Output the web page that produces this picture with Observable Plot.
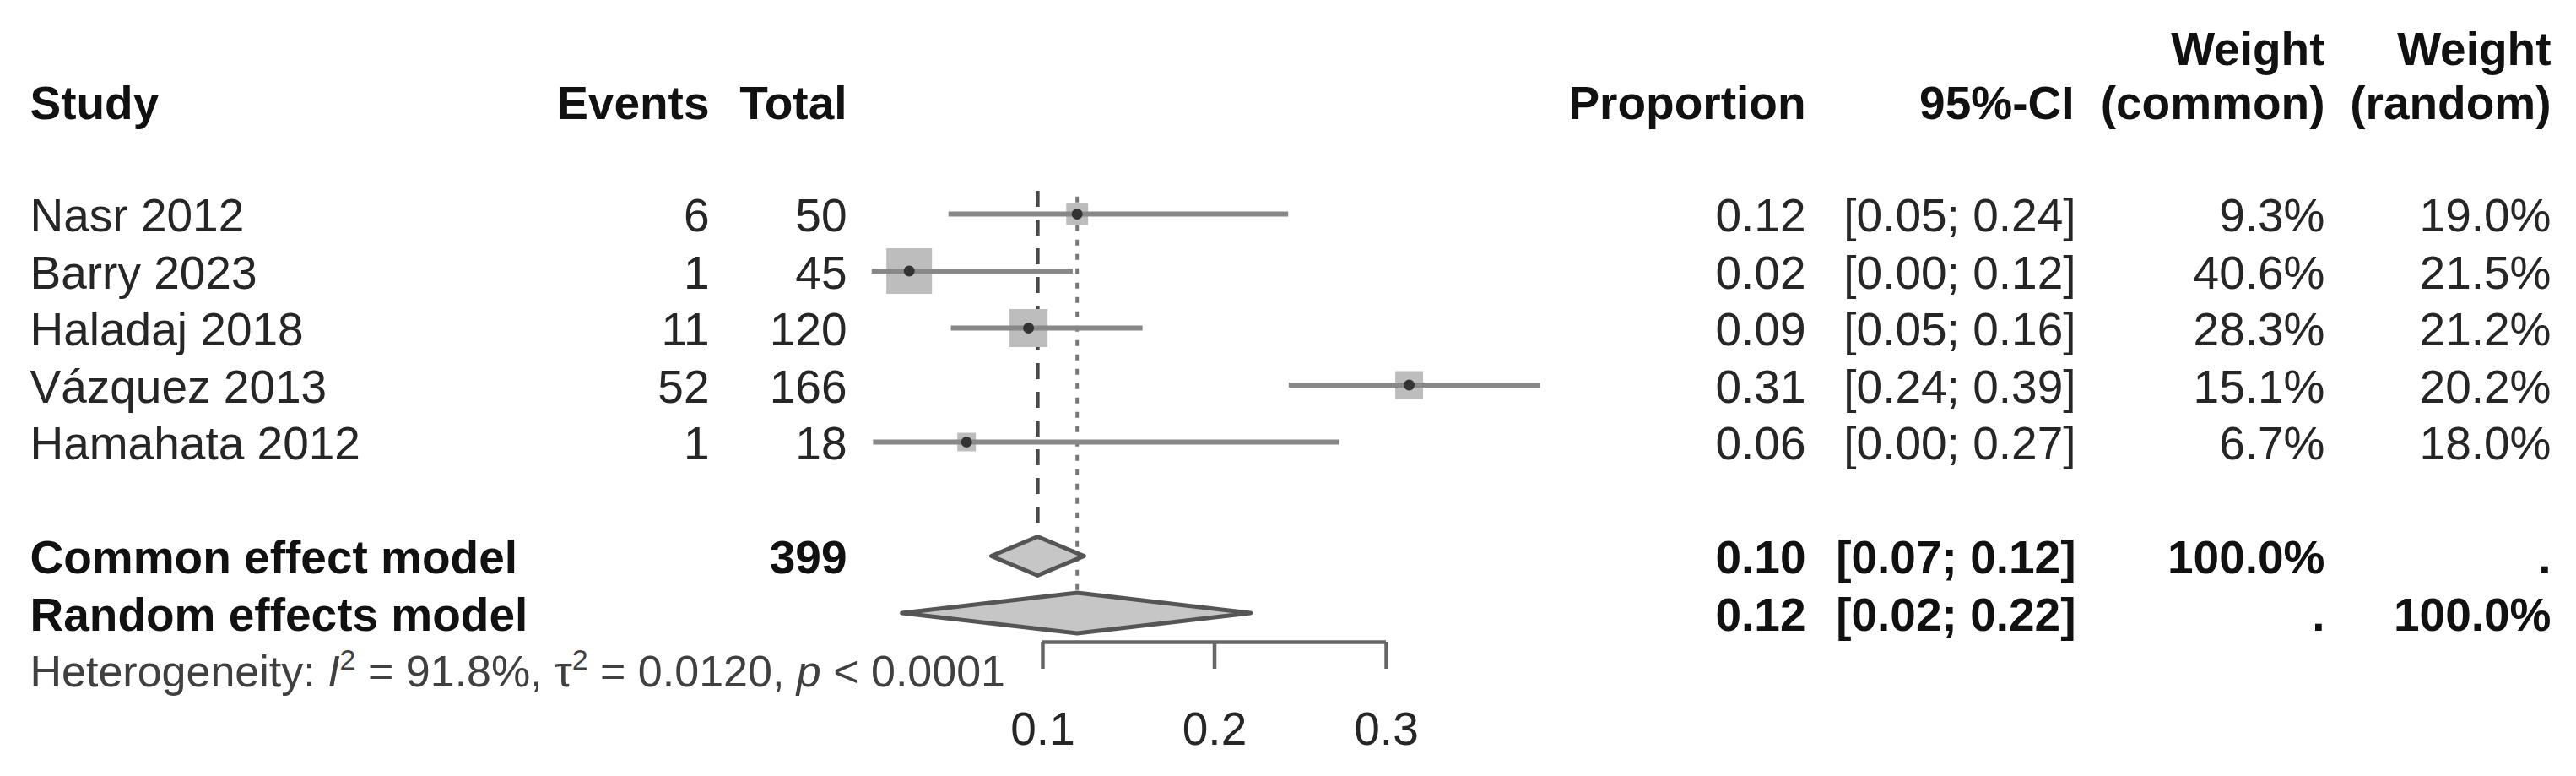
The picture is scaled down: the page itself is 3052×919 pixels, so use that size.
<!DOCTYPE html>
<html>
<head>
<meta charset="utf-8">
<script src="https://cdn.jsdelivr.net/npm/d3@7"></script>
<script src="https://cdn.jsdelivr.net/npm/@observablehq/plot@0.6"></script>
<style>
  html, body { margin: 0; padding: 0; background: #fff; }
  #chart svg { display: block; }
</style>
</head>
<body>
<div id="chart"></div>
<script>
// ---- data ----
const studies = ["Nasr 2012", "Barry 2023", "Haladaj 2018", "Vázquez 2013", "Hamahata 2012"];
const events = [6, 1, 11, 52, 1];
const totals = [50, 45, 120, 166, 18];
const proportion = [0.12, 0.0222, 0.0917, 0.3133, 0.0556];
const ciLower = [0.0453, 0.0006, 0.0467, 0.2434, 0.0014];
const ciUpper = [0.2431, 0.1177, 0.1583, 0.3897, 0.2729];
const propLabels = ["0.12", "0.02", "0.09", "0.31", "0.06"];
const ciLabels = ["[0.05; 0.24]", "[0.00; 0.12]", "[0.05; 0.16]", "[0.24; 0.39]", "[0.00; 0.27]"];
const weightCommon = [9.3, 40.6, 28.3, 15.1, 6.7];
const weightRandom = [19.0, 21.5, 21.2, 20.2, 18.0];

const models = ["Common effect model", "Random effects model"];
const modelTotals = ["399", ""];
const modelEst = [0.097, 0.120];
const modelLower = [0.070, 0.018];
const modelUpper = [0.124, 0.221];
const modelPropLabels = ["0.10", "0.12"];
const modelCiLabels = ["[0.07; 0.12]", "[0.02; 0.22]"];
const modelWeightCommon = ["100.0%", "."];
const modelWeightRandom = [".", "100.0%"];

const hetI2 = "91.8%";
const hetTau2 = "0.0120";
const hetP = "< 0.0001";

const axisTicks = [0.1, 0.2, 0.3];

// ---- tables built from the arrays ----
const fmtW = d => d3.format(".1f")(d) + "%";
const studyRows = studies.map((s, i) => ({
  row: i, study: s, events: String(events[i]), total: String(totals[i]),
  p: proportion[i], lo: ciLower[i], hi: ciUpper[i],
  pLab: propLabels[i], ciLab: ciLabels[i],
  wc: weightCommon[i], wr: weightRandom[i],
  wcLab: fmtW(weightCommon[i]), wrLab: fmtW(weightRandom[i])
}));
const modelRows = models.map((m, i) => ({
  row: studies.length + 1 + i, model: m, total: modelTotals[i],
  est: modelEst[i], lo: modelLower[i], hi: modelUpper[i],
  pLab: modelPropLabels[i], ciLab: modelCiLabels[i],
  wcLab: modelWeightCommon[i], wrLab: modelWeightRandom[i]
}));
const hetRow = studies.length + 1 + models.length;
const hetText = `Heterogeneity: I² = ${hetI2}, τ² = ${hetTau2}, p ${hetP}`;

// ---- layout / style ----
const W = 3052, H = 919;
const yDomain = [-3.748, 7.511];
const diamondHalf = [0.34, 0.355];
const diamonds = modelRows.flatMap((m, i) => [
  {model: m.model, x: m.lo, y: m.row},
  {model: m.model, x: m.est, y: m.row - diamondHalf[i]},
  {model: m.model, x: m.hi, y: m.row},
  {model: m.model, x: m.est, y: m.row + diamondHalf[i]}
]);

const headRow2 = -1.97, headRow1 = -2.92;
const colStudy = 35, colEvents = 840, colTotal = 1003, colProp = 2139, colCI = 2459, colWC = 2754, colWR = 3022;
const textC = "#262626", boldC = "#111";

function col(data, text, dx, opts = {}) {
  return Plot.text(data, {
    y: opts.y ?? "row", text, frameAnchor: "left", dx, dy: 3,
    textAnchor: opts.anchor ?? "end",
    fontWeight: opts.bold ? "bold" : "normal",
    fill: opts.fill ?? (opts.bold ? boldC : textC),
    fontSize: opts.fontSize ?? 55
  });
}
const header2 = [{row: headRow2}];
const header1 = [{row: headRow1}];

const chart = Plot.plot({
  width: W, height: H,
  marginTop: 0, marginRight: 0, marginBottom: H - 760, marginLeft: 0,
  style: {fontFamily: "'Liberation Sans', Arial, Helvetica, sans-serif", fontSize: "55px", background: "#fff", overflow: "visible"},
  x: {domain: [-1031.5 / 2035, (W - 1031.5) / 2035], axis: null},
  y: {domain: yDomain, reverse: true, axis: null},
  r: {type: "sqrt", domain: [0, d3.max(weightCommon)], range: [0, 30.5]},
  marks: [
    // reference lines
    Plot.ruleX([modelEst[0]], {x: d => d, y1: -0.4, y2: modelRows[0].row - diamondHalf[0], stroke: "#4a4a4a", strokeWidth: 4.5, strokeDasharray: "19,15"}),
    Plot.ruleX([modelEst[1]], {x: d => d, y1: -0.3, y2: modelRows[1].row - diamondHalf[1], stroke: "#777", strokeWidth: 4, strokeDasharray: "7,10"}),
    // study squares, CI lines, center points
    Plot.dot(studyRows, {x: "p", y: "row", r: "wc", symbol: "square", fill: "#bdbdbd", stroke: "none"}),
    Plot.ruleY(studyRows, {y: "row", x1: "lo", x2: "hi", stroke: "#888", strokeWidth: 6}),
    Plot.dot(studyRows, {x: "p", y: "row", r: 6.5, fill: "#333", stroke: "none"}),
    // diamonds
    Plot.line(diamonds, {x: "x", y: "y", z: "model", curve: "linear-closed", fill: "#c6c6c6", stroke: "#555", strokeWidth: 5, strokeLinejoin: "round"}),
    // x axis
    Plot.ruleY([axisTicks], {x1: d => d3.min(d), x2: d => d3.max(d), y: () => yDomain[1], stroke: "#666", strokeWidth: 4.5}),
    Plot.axisX(axisTicks, {anchor: "bottom", tickSize: 32, tickPadding: 50, tickFormat: d3.format(".1f"), stroke: "#666", strokeWidth: 4.5, fill: textC, fontSize: 55}),
    // headers
    col(header2, () => "Study", colStudy, {anchor: "start", bold: true}),
    col(header2, () => "Events", colEvents, {bold: true}),
    col(header2, () => "Total", colTotal, {bold: true}),
    col(header2, () => "Proportion", colProp, {bold: true}),
    col(header2, () => "95%-CI", colCI - 2, {bold: true}),
    col(header2, () => "(common)", colWC, {bold: true}),
    col(header2, () => "(random)", colWR, {bold: true}),
    col(header1, () => "Weight", colWC, {bold: true}),
    col(header1, () => "Weight", colWR, {bold: true}),
    // study rows
    col(studyRows, "study", colStudy, {anchor: "start"}),
    col(studyRows, "events", colEvents),
    col(studyRows, "total", colTotal),
    col(studyRows, "pLab", colProp),
    col(studyRows, "ciLab", colCI),
    col(studyRows, "wcLab", colWC),
    col(studyRows, "wrLab", colWR),
    // model rows
    col(modelRows, "model", colStudy, {anchor: "start", bold: true}),
    col(modelRows, "total", colTotal, {bold: true}),
    col(modelRows, "pLab", colProp, {bold: true}),
    col(modelRows, "ciLab", colCI, {bold: true}),
    col(modelRows, "wcLab", colWC, {bold: true}),
    col(modelRows, "wrLab", colWR, {bold: true}),
    // heterogeneity
    col([{row: hetRow}], () => hetText, colStudy, {anchor: "start", fill: "#404040", fontSize: 52})
  ]
});

// rich formatting of the heterogeneity line (italic I and p, superscript 2)
const NS = "http://www.w3.org/2000/svg";
const hetEl = Array.from(chart.querySelectorAll("text")).find(t => t.textContent === hetText);
if (hetEl) {
  const target = hetEl.querySelector("tspan") || hetEl;
  target.textContent = "";
  const parts = [
    ["Heterogeneity: ", ""], ["I", "italic"], ["2", "sup"], [" = " + hetI2 + ", ", ""],
    ["τ", ""], ["2", "sup"], [" = " + hetTau2 + ", ", ""], ["p", "italic"], [" " + hetP, ""]
  ];
  let raised = false;
  for (const [s, kind] of parts) {
    const ts = document.createElementNS(NS, "tspan");
    ts.textContent = s;
    if (kind === "italic") ts.setAttribute("font-style", "italic");
    if (kind === "sup") { ts.setAttribute("font-size", "34"); ts.setAttribute("dy", "-20"); raised = true; }
    else if (raised) { ts.setAttribute("dy", "20"); raised = false; }
    target.appendChild(ts);
  }
}

document.getElementById("chart").appendChild(chart);
</script>
</body>
</html>
